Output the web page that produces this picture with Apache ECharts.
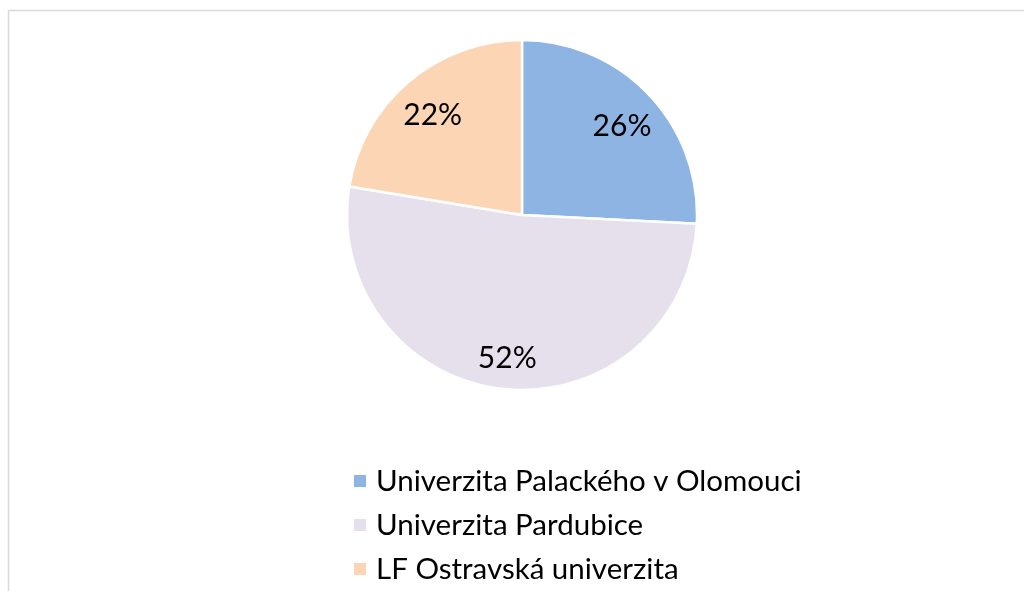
<!DOCTYPE html>
<html>
<head>
<meta charset="utf-8">
<script src="https://cdn.jsdelivr.net/npm/echarts@6/dist/echarts.min.js"></script>
<style>
    html, body { margin: 0; padding: 0; background: #fff; }
    #myCharts { width: 1024px; height: 591px; }
</style>
</head>
<body>
<div id="myCharts"></div>
<script>
    // podíl studentů podle fakulty
    const categories = ['Univerzita Palackého v Olomouci', 'Univerzita Pardubice', 'LF Ostravská univerzita'];
    const values = [25.8, 51.8, 22.4];
    const colors = ['#8eb4e3', '#e6e0ec', '#fcd5b5'];

    const data = categories.map((name, i) => ({
        name: name,
        value: values[i],
        itemStyle: { color: colors[i] }
    }));

    const myCharts = echarts.init(document.getElementById('myCharts'));
    let options = {
        animation: false,
        graphic: [{
            type: 'rect',
            shape: { x: 8.5, y: 10.5, width: 1100, height: 700 },
            style: { fill: 'none', stroke: '#d9d9d9', lineWidth: 1.5 },
            silent: true
        }],
        legend: {
            orient: 'vertical',
            left: 347,
            top: 461,
            itemWidth: 14,
            itemHeight: 14,
            itemGap: 14,
            icon: 'rect',
            textStyle: {
                fontFamily: 'Lato',
                fontSize: 29.5,
                color: '#000',
                padding: [0, 0, 0, 4]
            },
            data: categories
        },
        series: [
            {
                // samotné výseče
                type: 'pie',
                center: [522, 215],
                radius: 175,
                startAngle: 90,
                clockwise: true,
                itemStyle: { borderColor: '#fff', borderWidth: 2.5 },
                label: { show: false },
                labelLine: { show: false },
                emphasis: { disabled: true },
                data: data
            },
            {
                // jen popisky procent, posunuté k okraji
                type: 'pie',
                center: [522, 215],
                radius: [95, 175],
                startAngle: 90,
                clockwise: true,
                silent: true,
                itemStyle: { color: 'transparent' },
                label: {
                    show: true,
                    position: 'inside',
                    fontFamily: 'Lato',
                    fontSize: 30,
                    color: '#000',
                    formatter: p => Math.round(p.percent) + '%'
                },
                labelLayout: { dx: 0, dy: 6 },
                labelLine: { show: false },
                emphasis: { disabled: true },
                data: data.map(d => ({ name: d.name, value: d.value }))
            }
        ]
    };
    myCharts.setOption(options);
</script>
</body>
</html>
